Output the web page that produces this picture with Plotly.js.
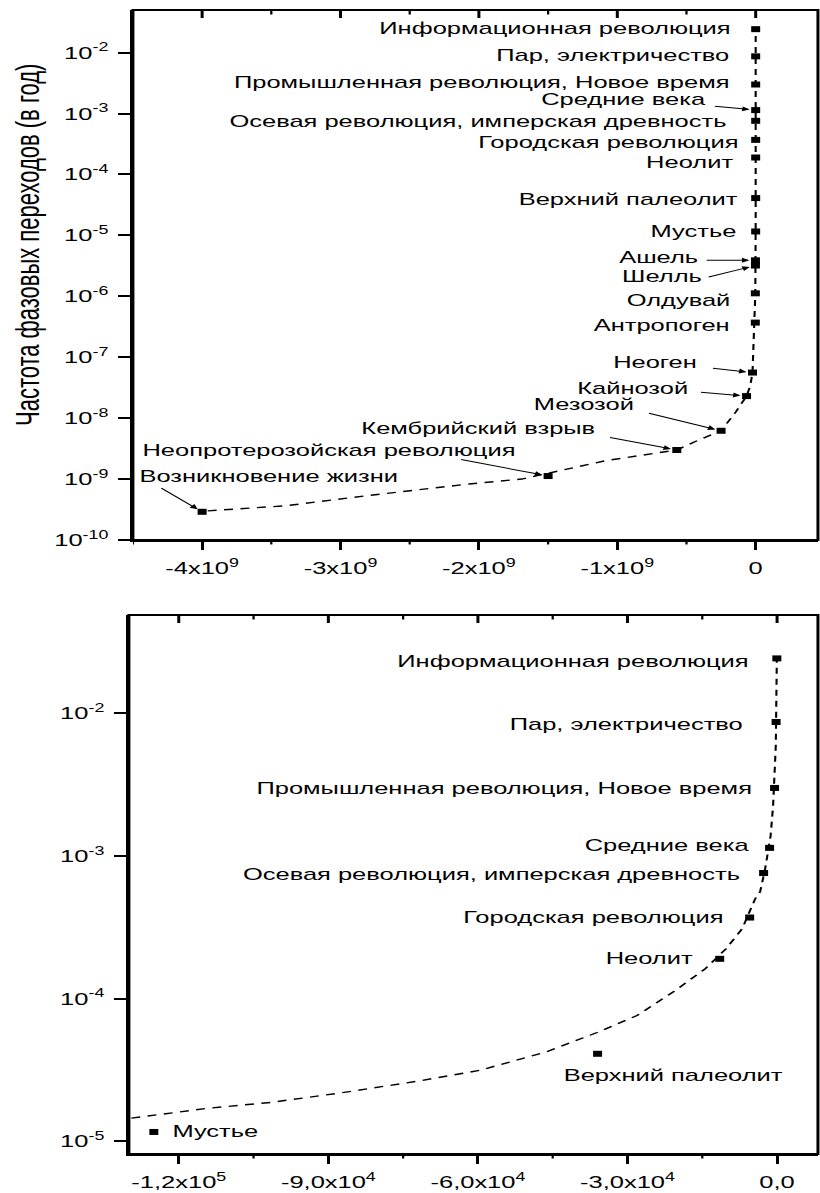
<!DOCTYPE html>
<html><head><meta charset="utf-8">
<script src="https://cdn.plot.ly/plotly-3.0.1.min.js"></script>
<style>
html,body{margin:0;padding:0;background:#fff;overflow:hidden;}
#wrap{width:547px;height:1193px;transform:scaleX(1.4991);transform-origin:0 0;}
#chart{width:547px;height:1193px;}
</style></head><body>
<div id="wrap"><div id="chart"></div></div>
<script>
// ---- data ----
const eventNames = [
  'Информационная революция',
  'Пар, электричество',
  'Промышленная революция, Новое время',
  'Средние века',
  'Осевая революция, имперская древность',
  'Городская революция',
  'Неолит',
  'Верхний палеолит',
  'Мустье',
  'Ашель',
  'Шелль',
  'Олдувай',
  'Антропоген',
  'Неоген',
  'Кайнозой',
  'Мезозой',
  'Кембрийский взрыв',
  'Неопротерозойская революция',
  'Возникновение жизни'
];
const eventTimes = [-50, -200, -500, -1500, -2700, -5500, -11500, -36000, -125000,
  -1.6e6, -1.8e6, -2.5e6, -2.6e6, -2.3e7, -6.6e7, -2.5e8, -5.7e8, -1.5e9, -4.0e9];
const eventRates = [0.0243, 0.0087, 0.0030, 0.00114, 7.6e-4, 3.7e-4, 1.9e-4, 4.1e-5, 1.16e-5,
  3.9e-6, 3.2e-6, 1.12e-6, 3.7e-7, 5.6e-8, 2.3e-8, 6.2e-9, 3.0e-9, 1.12e-9, 2.9e-10];

const topFitTimes = [-3.96e9, -3.39e9, -2.82e9, -2.07e9, -1.69e9, -1.085e9, -5.7e8, -4.4e8, -2.5e8,
  -1.44e8, -6.6e7, -3.9e7, -2.3e7, -1.44e7, -5e6, -2.6e6, -1.2e5, -1.15e4, -1.3e3, -50];
const topFitRates = [3.0e-10, 3.65e-10, 5.3e-10, 8.3e-10, 1.0e-9, 2.0e-9, 3.0e-9, 4.1e-9, 6.2e-9,
  1.26e-8, 2.3e-8, 3.4e-8, 5.6e-8, 1.55e-7, 3.7e-7, 1.1e-6, 1.45e-5, 1.9e-4, 1.38e-3, 0.0243];

const bottomFitTimes = [-1.295e5, -1.142e5, -1.015e5, -8.79e4, -7.22e4, -5.96e4, -4.6e4, -3.61e4,
  -2.81e4, -2.07e4, -1.44e4, -1.02e4, -7.0e3, -4.4e3, -3.4e3, -2.4e3, -1.3e3, -800, -260, -60, -50];
const bottomFitRates = [1.45e-5, 1.70e-5, 1.87e-5, 2.17e-5, 2.63e-5, 3.14e-5, 4.26e-5, 5.78e-5,
  7.6e-5, 1.12e-4, 1.62e-4, 2.24e-4, 3.09e-4, 5.0e-4, 5.6e-4, 8.1e-4, 1.38e-3, 2.24e-3, 5.9e-3, 0.0174, 0.0243];

const topXTickVals = [-4e9, -3e9, -2e9, -1e9, 0];
const topXTickText = ['-4x10<sup>9</sup>', '-3x10<sup>9</sup>', '-2x10<sup>9</sup>', '-1x10<sup>9</sup>', '0'];
const topXMinorVals = [-4.5e9, -3.5e9, -2.5e9, -1.5e9, -0.5e9];
const bottomXTickVals = [-1.2e5, -9e4, -6e4, -3e4, 0];
const bottomXTickText = ['-1,2x10<sup>5</sup>', '-9,0x10<sup>4</sup>', '-6,0x10<sup>4</sup>', '-3,0x10<sup>4</sup>', '0,0'];
const bottomXMinorVals = [-1.05e5, -7.5e4, -4.5e4, -1.5e4];
const topYExponents = [-10, -9, -8, -7, -6, -5, -4, -3, -2];
const bottomYExponents = [-5, -4, -3, -2];
const yTitle = 'Частота фазовых переходов (в год)';
const bottomCount = 9; // events shown in the lower (zoomed) panel

// ---- label placement (pixel offsets from each marker) ----
const topLabelAnchor = ['right','right','right','right','right','right','right','right','right','right','right','right','right','right','right','right','right','right','left'];
const topLabelDx = [-14.7, -14.7, -14.7, -30.7, -16.7, -9.3, -13.3, -10, -11.3, -36, -34, -14.7, -14.7, -35.2, -36.6, -55.6, -52.7, -19.5, -44];
const topLabelDy = [1, 1, 2.5, 11, -1, -3, -4.5, -1, 0, 3, -11, -7, -2.5, 9.6, 8, 25.8, 21, 26, 35];
const topArrowIdx = [3, 9, 10, 13, 14, 15, 16, 17, 18];
const topArrowAx = [-28.7, -34, -32.7, -27.9, -31.9, -49.6, -46, -59.5, -28.7];
const topArrowAy = [-4, 0, 12, -4.6, -4, -18, -13, -17, -25];
const botLabelAnchor = ['right','right','right','right','right','right','right','left','left'];
const botLabelDx = [-16.7, -19.3, -12.3, -11.7, -13, -15, -16.5, -24.2, 10.7];
const botLabelDy = [-3, -2, -1, 2, -2, 0, 0, -22, 0];

const FONT = 'Liberation Sans, Arial, Helvetica, sans-serif';
const lineStyle = {color: '#000', width: 1.4, dash: '6px,5px'};
const markerStyle = {symbol: 'square', size: 6, color: '#000'};
const W = 547, H = 1193;

function supText(e) { return '10<sup>' + e + '</sup>'; }

const bTimes = eventTimes.slice(0, bottomCount);
const bRates = eventRates.slice(0, bottomCount);
const bNames = eventNames.slice(0, bottomCount);

const traces = [
  {x: topFitTimes, y: topFitRates, mode: 'lines', line: lineStyle, xaxis: 'x', yaxis: 'y', hoverinfo: 'skip'},
  {x: eventTimes, y: eventRates, mode: 'markers', marker: markerStyle, xaxis: 'x', yaxis: 'y', text: eventNames},
  {x: bottomFitTimes, y: bottomFitRates, mode: 'lines', line: lineStyle, xaxis: 'x2', yaxis: 'y2', hoverinfo: 'skip'},
  {x: bTimes, y: bRates, mode: 'markers', marker: markerStyle, xaxis: 'x2', yaxis: 'y2', text: bNames}
];

const topYRange = [-10, -1.3];
const topXRange = [-4.5e9, 0.45e9];
const botYRange = [-5.09, -1.31];
const botXRange = [-1.3e5, 8.2e3];
const topDomX = [0.1621, 0.9975], topDomY = [0.5474, 0.9916];
const botDomX = [0.1572, 0.9975], botDomY = [0.0327, 0.4845];

const tickFont = {size: 17, color: '#000', family: FONT};
function mainX(range, dom, vals, text, anchor) {
  return {range: range, domain: dom, anchor: anchor, tickmode: 'array', tickvals: vals, ticktext: text,
    ticks: 'outside', ticklen: 8, tickwidth: 2, tickcolor: '#000', ticklabelstandoff: 4, tickfont: tickFont,
    showgrid: false, zeroline: false, showline: true, linecolor: '#000', linewidth: 2};
}
function mainY(range, dom, exps, anchor) {
  return {type: 'log', range: range, domain: dom, anchor: anchor, tickmode: 'array',
    tickvals: exps.map(e => Math.pow(10, e)), ticktext: exps.map(supText), ticks: 'outside', ticklen: 8,
    tickwidth: 2, tickcolor: '#000', ticklabelstandoff: 3, tickfont: tickFont,
    showgrid: false, zeroline: false, showline: true, linecolor: '#000', linewidth: 2};
}

// ---- frame and secondary tick marks (minor ticks, inner ticks on top / right) ----
function minorLogVals(range) {
  const v = [];
  for (let e = Math.floor(range[0]); e < range[1]; e++) {
    for (let m = 2; m <= 9; m++) {
      const l = e + Math.log10(m);
      if (l > range[0] && l < range[1]) v.push(l);
    }
  }
  return v;
}
function panelShapes(xa, ya, domX, domY, yRange, xMajor, xMinor, yExps) {
  const xd = xa + ' domain', yd = ya + ' domain';
  const fx = px => px / ((domX[1] - domX[0]) * W);   // pixel length -> x-domain fraction
  const fy = px => px / ((domY[1] - domY[0]) * H);   // pixel length -> y-domain fraction
  const ln = w => ({color: '#000', width: w});
  const s = [];
  s.push({type: 'rect', xref: xd, yref: yd, x0: 0, x1: 1, y0: 0, y1: 1, line: ln(2), fillcolor: 'rgba(0,0,0,0)'});
  xMajor.forEach(v => s.push({type: 'line', xref: xa, yref: yd, x0: v, x1: v, y0: 1, y1: 1 - fy(8), line: ln(2)}));
  xMinor.forEach(v => {
    s.push({type: 'line', xref: xa, yref: yd, x0: v, x1: v, y0: 1, y1: 1 - fy(4.5), line: ln(1.5)});
    s.push({type: 'line', xref: xa, yref: yd, x0: v, x1: v, y0: 0, y1: -fy(4.5), line: ln(1.5)});
  });
  yExps.forEach(e => s.push({type: 'line', xref: xd, yref: ya, x0: 1, x1: 1 - fx(5), y0: e, y1: e, line: ln(2)}));
  minorLogVals(yRange).forEach(l => s.push({type: 'line', xref: xd, yref: ya, x0: 0, x1: -fx(4), y0: l, y1: l, line: ln(1.5)}));
  return s;
}

const annotations = [];
eventNames.forEach((name, i) => {
  annotations.push({xref: 'x', yref: 'y', x: eventTimes[i], y: Math.log10(eventRates[i]), text: name,
    showarrow: false, xanchor: topLabelAnchor[i], yanchor: 'middle', xshift: topLabelDx[i], yshift: topLabelDy[i],
    font: {size: 17, color: '#000', family: FONT}});
});
topArrowIdx.forEach((i, k) => {
  annotations.push({xref: 'x', yref: 'y', x: eventTimes[i], y: Math.log10(eventRates[i]), text: '',
    showarrow: true, ax: topArrowAx[k], ay: topArrowAy[k], arrowhead: 2, arrowsize: 1, arrowwidth: 1,
    arrowcolor: '#000', standoff: 4});
});
bNames.forEach((name, i) => {
  annotations.push({xref: 'x2', yref: 'y2', x: bTimes[i], y: Math.log10(bRates[i]), text: name,
    showarrow: false, xanchor: botLabelAnchor[i], yanchor: 'middle', xshift: botLabelDx[i], yshift: botLabelDy[i],
    font: {size: 17, color: '#000', family: FONT}});
});
annotations.push({xref: 'paper', yref: 'paper', x: 0.033, y: 0.7946, text: yTitle, textangle: -90,
  showarrow: false, xanchor: 'center', yanchor: 'middle', font: {size: 22, color: '#000', family: FONT}});

const shapes = panelShapes('x', 'y', topDomX, topDomY, topYRange, topXTickVals, topXMinorVals, topYExponents)
  .concat(panelShapes('x2', 'y2', botDomX, botDomY, botYRange, bottomXTickVals, bottomXMinorVals, bottomYExponents));

const layout = {
  width: W, height: H, margin: {l: 0, r: 0, t: 0, b: 0},
  paper_bgcolor: '#fff', plot_bgcolor: '#fff', showlegend: false,
  font: {family: FONT, color: '#000'},
  xaxis: mainX(topXRange, topDomX, topXTickVals, topXTickText, 'y'),
  yaxis: mainY(topYRange, topDomY, topYExponents, 'x'),
  xaxis2: mainX(botXRange, botDomX, bottomXTickVals, bottomXTickText, 'y2'),
  yaxis2: mainY(botYRange, botDomY, bottomYExponents, 'x2'),
  shapes: shapes,
  annotations: annotations
};

Plotly.newPlot('chart', traces, layout, {staticPlot: true, displayModeBar: false});
</script>
</body></html>
